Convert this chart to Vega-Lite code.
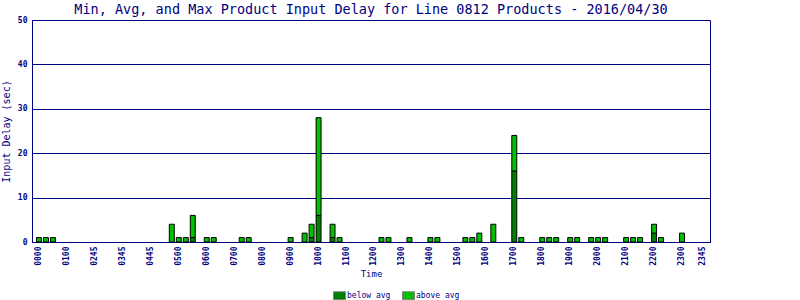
{
  "$schema": "https://vega.github.io/schema/vega-lite/v6.json",
  "width": 678,
  "height": 222,
  "autosize": "none",
  "padding": {"left": 32, "top": 20, "right": 90, "bottom": 58},
  "background": "white",
  "title": {"text": "Min, Avg, and Max Product Input Delay for Line 0812 Products - 2016/04/30", "font": "DejaVu Sans Mono", "fontSize": 13.5, "fontWeight": "normal", "color": "#000080", "offset": 0, "anchor": "middle"},
  "config": {"view": {"stroke": "#000080", "strokeWidth": 1}},
  "data": {"values": [
    {"time": "0000", "part": "above avg", "value": 1},
    {"time": "0015", "part": "above avg", "value": 1},
    {"time": "0030", "part": "above avg", "value": 1},
    {"time": "0445", "part": "above avg", "value": 4},
    {"time": "0500", "part": "above avg", "value": 1},
    {"time": "0515", "part": "above avg", "value": 1},
    {"time": "0530", "part": "below avg", "value": 1},
    {"time": "0530", "part": "above avg", "value": 5},
    {"time": "0600", "part": "above avg", "value": 1},
    {"time": "0615", "part": "above avg", "value": 1},
    {"time": "0715", "part": "above avg", "value": 1},
    {"time": "0730", "part": "above avg", "value": 1},
    {"time": "0900", "part": "above avg", "value": 1},
    {"time": "0930", "part": "above avg", "value": 2},
    {"time": "0945", "part": "below avg", "value": 1},
    {"time": "0945", "part": "above avg", "value": 3},
    {"time": "1000", "part": "below avg", "value": 6},
    {"time": "1000", "part": "above avg", "value": 22},
    {"time": "1030", "part": "below avg", "value": 1},
    {"time": "1030", "part": "above avg", "value": 3},
    {"time": "1045", "part": "above avg", "value": 1},
    {"time": "1215", "part": "above avg", "value": 1},
    {"time": "1230", "part": "above avg", "value": 1},
    {"time": "1315", "part": "above avg", "value": 1},
    {"time": "1400", "part": "above avg", "value": 1},
    {"time": "1415", "part": "above avg", "value": 1},
    {"time": "1515", "part": "above avg", "value": 1},
    {"time": "1530", "part": "above avg", "value": 1},
    {"time": "1545", "part": "above avg", "value": 2},
    {"time": "1615", "part": "above avg", "value": 4},
    {"time": "1700", "part": "below avg", "value": 16},
    {"time": "1700", "part": "above avg", "value": 8},
    {"time": "1715", "part": "above avg", "value": 1},
    {"time": "1800", "part": "above avg", "value": 1},
    {"time": "1815", "part": "above avg", "value": 1},
    {"time": "1830", "part": "above avg", "value": 1},
    {"time": "1900", "part": "above avg", "value": 1},
    {"time": "1915", "part": "above avg", "value": 1},
    {"time": "1945", "part": "above avg", "value": 1},
    {"time": "2000", "part": "above avg", "value": 1},
    {"time": "2015", "part": "above avg", "value": 1},
    {"time": "2100", "part": "above avg", "value": 1},
    {"time": "2115", "part": "above avg", "value": 1},
    {"time": "2130", "part": "above avg", "value": 1},
    {"time": "2200", "part": "below avg", "value": 2},
    {"time": "2200", "part": "above avg", "value": 2},
    {"time": "2215", "part": "above avg", "value": 1},
    {"time": "2300", "part": "above avg", "value": 2}
  ]},
  "mark": {"type": "bar", "stroke": "black", "strokeWidth": 1, "opacity": 1},
  "encoding": {
    "x": {
      "field": "time", "type": "ordinal",
      "scale": {"domain": ["0000","0015","0030","0045","0100","0115","0130","0145","0200","0215","0230","0245","0300","0315","0330","0345","0400","0415","0430","0445","0500","0515","0530","0545","0600","0615","0630","0645","0700","0715","0730","0745","0800","0815","0830","0845","0900","0915","0930","0945","1000","1015","1030","1045","1100","1115","1130","1145","1200","1215","1230","1245","1300","1315","1330","1345","1400","1415","1430","1445","1500","1515","1530","1545","1600","1615","1630","1645","1700","1715","1730","1745","1800","1815","1830","1845","1900","1915","1930","1945","2000","2015","2030","2045","2100","2115","2130","2145","2200","2215","2230","2245","2300","2315","2330","2345"], "paddingInner": 0.29, "paddingOuter": 0.645},
      "axis": {
        "title": "Time",
        "values": ["0000","0100","0200","0300","0400","0500","0600","0700","0800","0900","1000","1100","1200","1300","1400","1500","1600","1700","1800","1900","2000","2100","2200","2300","2345"],
        "labelExpr": "datum.value == '0200' ? '0245' : datum.value == '0300' ? '0345' : datum.value == '0400' ? '0445' : datum.value",
        "labelAngle": 270,
        "labelFont": "DejaVu Sans Mono", "labelFontSize": 8, "labelFontWeight": "bold", "labelColor": "#000080",
        "labelPadding": 4, "ticks": false, "domainColor": "#000080", "grid": false,
        "titleFont": "DejaVu Sans Mono", "titleFontSize": 9, "titleFontWeight": "normal", "titleColor": "#000080", "titlePadding": 4
      }
    },
    "y": {
      "field": "value", "type": "quantitative", "stack": "zero",
      "scale": {"domain": [0, 50]},
      "axis": {
        "title": "Input Delay (sec)",
        "values": [0, 10, 20, 30, 40, 50],
        "grid": true, "gridColor": "#000080", "gridOpacity": 1, "gridWidth": 1,
        "domainColor": "#000080", "ticks": false, "labelPadding": 5,
        "labelFont": "DejaVu Sans Mono", "labelFontSize": 8, "labelFontWeight": "bold", "labelColor": "#000080",
        "titleFont": "DejaVu Sans Mono", "titleFontSize": 10, "titleFontWeight": "normal", "titleColor": "#000080", "titlePadding": 6
      }
    },
    "color": {
      "field": "part", "type": "nominal",
      "scale": {"domain": ["below avg", "above avg"], "range": ["#008000", "#00C000"]},
      "legend": {
        "orient": "none", "legendX": 303, "legendY": 271, "direction": "horizontal", "title": null,
        "symbolType": "M-1.5,-1H1.5V1H-1.5Z", "symbolSize": 64, "symbolStrokeColor": "#808080", "symbolStrokeWidth": 1, "symbolOpacity": 1,
        "labelFont": "DejaVu Sans Mono", "labelFontSize": 8, "labelColor": "#000080", "labelOffset": 3, "columnPadding": 9
      }
    },
    "order": {"field": "part", "sort": "descending"}
  }
}
